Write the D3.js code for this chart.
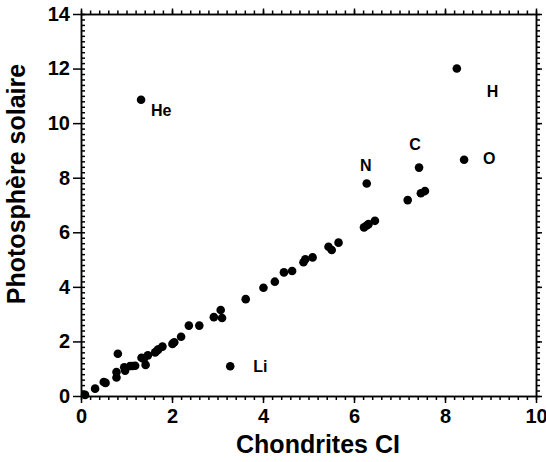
<!DOCTYPE html>
<html>
<head>
<meta charset="utf-8">
<script src="https://cdn.jsdelivr.net/npm/d3@7"></script>
<style>
  body { margin: 0; background: #fff; }
  svg { display: block; }
  text { font-family: "Liberation Sans", Arial, sans-serif; font-weight: bold; fill: #000; }
  .axis path, .axis line { stroke: #000; stroke-width: 1.5; }
</style>
</head>
<body>
<svg id="chart" width="546" height="462"></svg>
<script>
// abondances : chondrites CI (x) vs photosphère solaire (y)
var ciValues = [0.09, 0.31, 0.50, 0.54, 0.78, 0.78, 0.81, 0.95, 0.97, 1.08,
  1.13, 1.19, 1.32, 1.33, 1.38, 1.42, 1.47, 1.63, 1.67, 1.70,
  1.79, 2.01, 2.05, 2.20, 2.37, 2.60, 2.92, 3.07, 3.10, 3.28,
  3.62, 4.01, 4.26, 4.46, 4.64, 4.89, 4.93, 5.09, 5.44, 5.51,
  5.66, 6.22, 6.28, 6.32, 6.46, 6.28, 7.18, 7.47, 7.56, 7.43,
  8.42, 8.26];
var solarValues = [0.04, 0.27, 0.51, 0.48, 0.68, 0.88, 1.55, 1.05, 0.93, 1.10,
  1.10, 1.11, 10.86, 1.40, 1.36, 1.14, 1.49, 1.60, 1.66, 1.71,
  1.81, 1.91, 1.97, 2.17, 2.58, 2.58, 2.89, 3.15, 2.86, 1.09,
  3.55, 3.97, 4.19, 4.53, 4.58, 4.90, 5.01, 5.08, 5.47, 5.35,
  5.62, 6.18, 6.25, 6.30, 6.42, 7.79, 7.18, 7.43, 7.51, 8.37,
  8.66, 12.00];
// éléments annotés (index du point -> symbole)
var labelIndex = [12, 29, 45, 49, 50, 51];
var labelNames = ["He", "Li", "N", "C", "O", "H"];
var xTicks = [0, 2, 4, 6, 8, 10];
var yTicks = [0, 2, 4, 6, 8, 10, 12, 14];

var xTitle = "Chondrites CI";
var yTitle = "Photosphère solaire";

// placement des étiquettes autour du point
var labelPos = {
  He: { dx: 10, dy: 16, anchor: "start" },
  Li: { dx: 23, dy: 6, anchor: "start" },
  N:  { dx: -1, dy: -12, anchor: "middle" },
  C:  { dx: -4, dy: -18, anchor: "middle" },
  O:  { dx: 19, dy: 4, anchor: "start" },
  H:  { dx: 30, dy: 28, anchor: "start" }
};

var svg = d3.select("#chart");
var x = d3.scaleLinear().domain([0, 10]).range([81, 536]);
var y = d3.scaleLinear().domain([0, 14]).range([396, 14]);

var minorX = d3.range(0, 10.001, 0.2);
var minorY = d3.range(0, 14.001, 0.2);

function axisGroup(axis, tx, ty) {
  return svg.append("g").attr("class", "axis")
    .attr("transform", "translate(" + tx + "," + ty + ")")
    .call(axis);
}

// {{{ axes
// bas : graduations vers l'extérieur
axisGroup(d3.axisBottom(x).tickValues(minorX).tickSize(4).tickSizeOuter(0).tickFormat(""), 0, 396);
var bottom = axisGroup(d3.axisBottom(x).tickValues(xTicks).tickSize(7).tickSizeOuter(0).tickPadding(6)
  .tickFormat(d3.format("d")), 0, 396);
bottom.selectAll("text").style("font-size", "20px");

// haut
axisGroup(d3.axisTop(x).tickValues(minorX).tickSize(3.5).tickSizeOuter(0).tickFormat(""), 0, 14);
axisGroup(d3.axisTop(x).tickValues(xTicks).tickSize(5.5).tickSizeOuter(0).tickFormat(""), 0, 14);

// gauche : mineures vers l'intérieur, majeures vers l'extérieur
axisGroup(d3.axisRight(y).tickValues(minorY).tickSize(4).tickSizeOuter(0).tickFormat(""), 81, 0);
var left = axisGroup(d3.axisLeft(y).tickValues(yTicks).tickSize(8).tickSizeOuter(0).tickPadding(3)
  .tickFormat(d3.format("d")), 81, 0);
left.selectAll("text").style("font-size", "20px");

// droite
axisGroup(d3.axisRight(y).tickValues(minorY).tickSize(4).tickSizeOuter(0).tickFormat(""), 536, 0);
axisGroup(d3.axisRight(y).tickValues(yTicks).tickSize(6).tickSizeOuter(0).tickFormat(""), 536, 0);
svg.selectAll(".axis text").attr("font-family", null);
// }}}

// {{{ points
var points = d3.range(ciValues.length).map(function(i) {
  return { cx: ciValues[i], sol: solarValues[i] };
});

svg.append("g").selectAll("circle")
  .data(points)
  .enter()
  .append("circle")
    .attr("cx", function(d) { return x(d.cx); })
    .attr("cy", function(d) { return y(d.sol); })
    .attr("r", 4.3)
    .attr("fill", "#000");

svg.append("g").selectAll("text")
  .data(labelIndex)
  .enter()
  .append("text")
    .attr("x", function(idx, k) { return x(ciValues[idx]) + labelPos[labelNames[k]].dx; })
    .attr("y", function(idx, k) { return y(solarValues[idx]) + labelPos[labelNames[k]].dy; })
    .attr("text-anchor", function(idx, k) { return labelPos[labelNames[k]].anchor; })
    .style("font-size", "16px")
    .text(function(idx, k) { return labelNames[k]; });
// }}}

// titres
svg.append("text")
  .attr("x", 318).attr("y", 453)
  .attr("text-anchor", "middle")
  .style("font-size", "25px")
  .text(xTitle);

svg.append("text")
  .attr("transform", "translate(25,184) rotate(-90)")
  .attr("text-anchor", "middle")
  .style("font-size", "25px")
  .text(yTitle);
</script>
</body>
</html>
